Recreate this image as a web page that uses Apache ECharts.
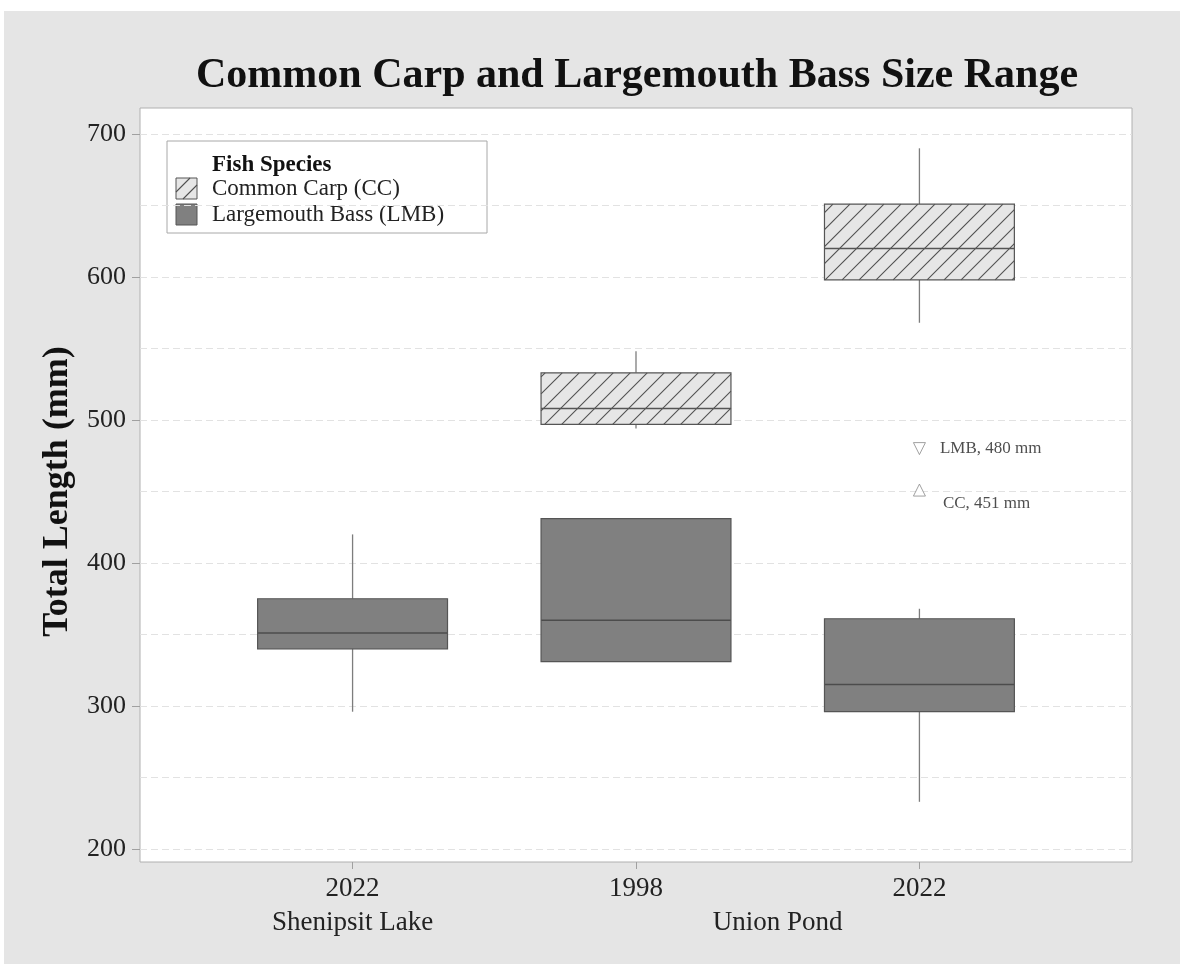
<!DOCTYPE html>
<html>
<head>
<meta charset="utf-8">
<style>
  html, body { margin: 0; padding: 0; background: #ffffff; }
  #chart { width: 1180px; height: 964px; }
</style>
<script src="https://cdn.jsdelivr.net/npm/echarts@6/dist/echarts.min.js"></script>
</head>
<body>
<div id="chart"></div>
<script>
// ---- data -------------------------------------------------------------
const POSITIONS = [1, 2, 3];                       // x slot of each sampling
const YEAR_LABELS = ['2022', '1998', '2022'];      // year under each slot
const SITE_NAMES = ['Shenipsit Lake', 'Union Pond'];
const SITE_SLOTS = [[0], [1, 2]];                  // slots belonging to each site

// box rows: [slot index, low whisker, Q1, median, Q3, high whisker] (mm)
const CC_BOXES = [
  [1, 494, 497, 508, 533, 548],
  [2, 568, 598, 620, 651, 690]
];
const LMB_BOXES = [
  [0, 296, 340, 351, 375, 420],
  [1, 331, 331, 360, 431, 431],
  [2, 233, 296, 315, 361, 368]
];

// single fish shown as markers: species, slot, length (mm)
const OUTLIER_SPECIES = ['LMB', 'CC'];
const OUTLIER_SLOTS = [2, 2];
const OUTLIER_VALUES = [480, 451];

const Y_MIN = 200, Y_MAX = 700, Y_STEP = 100, GRID_STEP = 50;

// ---- styling ----------------------------------------------------------
const FONT = "'Liberation Serif', 'DejaVu Serif', serif";
const BOX_WIDTH = 0.67;
const HATCH_GAP = 17;
const CC_STYLE = { fill: '#e6e6e6', stroke: '#555555', median: '#555555', hatch: true };
const LMB_STYLE = { fill: '#808080', stroke: '#555555', median: '#4c4c4c', hatch: false };

function hatchLines(x0, y0, x1, y1, gap, start) {
  // diagonal "/" strokes (x + y = c) clipped to the rectangle
  const lines = [];
  let c = start !== undefined ? start : Math.ceil((x0 + y0) / gap) * gap;
  for (; c < x1 + y1; c += gap) {
    const xa = Math.max(x0, c - y1);
    const xb = Math.min(x1, c - y0);
    if (xb - xa > 0.5) {
      lines.push({
        type: 'line',
        shape: { x1: xa, y1: c - xa, x2: xb, y2: c - xb },
        style: { stroke: '#505050', lineWidth: 1.1 }
      });
    }
  }
  return lines;
}

function makeBoxRenderer(st) {
  return function (params, api) {
    const x = api.value(0);
    const lo = api.value(1), q1 = api.value(2), med = api.value(3), q3 = api.value(4), hi = api.value(5);
    const cx = api.coord([x, med])[0];
    const half = api.size([BOX_WIDTH, 0])[0] / 2;
    const yLo = api.coord([x, lo])[1];
    const yQ1 = api.coord([x, q1])[1];
    const yMed = api.coord([x, med])[1];
    const yQ3 = api.coord([x, q3])[1];
    const yHi = api.coord([x, hi])[1];
    const whisker = { stroke: '#7d7d7d', lineWidth: 1.3 };
    const kids = [];
    if (hi > q3) kids.push({ type: 'line', shape: { x1: cx, y1: yHi, x2: cx, y2: yQ3 }, style: whisker });
    if (lo < q1) kids.push({ type: 'line', shape: { x1: cx, y1: yQ1, x2: cx, y2: yLo }, style: whisker });
    kids.push({
      type: 'rect',
      shape: { x: cx - half, y: yQ3, width: half * 2, height: yQ1 - yQ3 },
      style: { fill: st.fill, stroke: null }
    });
    if (st.hatch) {
      hatchLines(cx - half, yQ3, cx + half, yQ1, HATCH_GAP).forEach(l => kids.push(l));
    }
    kids.push({
      type: 'line',
      shape: { x1: cx - half, y1: yMed, x2: cx + half, y2: yMed },
      style: { stroke: st.median, lineWidth: 1.5 }
    });
    kids.push({
      type: 'rect',
      shape: { x: cx - half, y: yQ3, width: half * 2, height: yQ1 - yQ3 },
      style: { fill: null, stroke: st.stroke, lineWidth: 1.2 }
    });
    return { type: 'group', children: kids };
  };
}

function toSeriesData(rows) {
  return rows.map(r => [POSITIONS[r[0]], r[1], r[2], r[3], r[4], r[5]]);
}

// axis label text for each labelled x value
const xLabelMap = {};
POSITIONS.forEach((p, i) => { xLabelMap[p] = { year: YEAR_LABELS[i], site: '' }; });
SITE_NAMES.forEach((name, s) => {
  const slots = SITE_SLOTS[s];
  const mid = slots.reduce((a, i) => a + POSITIONS[i], 0) / slots.length;
  if (!xLabelMap[mid]) xLabelMap[mid] = { year: ' ', site: '' };
  xLabelMap[mid].site = name;
});
const xLabelValues = Object.keys(xLabelMap).map(Number).sort((a, b) => a - b);

// ---- legend block -----------------------------------------------------
const LEG = { x: 167, y: 141, w: 320, h: 92 };
const legendChildren = [
  { type: 'rect', shape: { x: LEG.x, y: LEG.y, width: LEG.w, height: LEG.h },
    style: { fill: '#ffffff', stroke: '#a8a8a8', lineWidth: 1 } },
  { type: 'text', x: LEG.x + 45, y: LEG.y + 24,
    style: { text: 'Fish Species', font: 'bold 23px ' + FONT, fill: '#111', textVerticalAlign: 'middle', verticalAlign: 'middle' } },
  { type: 'rect', shape: { x: LEG.x + 9, y: LEG.y + 37, width: 21, height: 21 },
    style: { fill: CC_STYLE.fill, stroke: '#555555', lineWidth: 1 } },
  { type: 'text', x: LEG.x + 45, y: LEG.y + 48,
    style: { text: 'Common Carp (CC)', font: '23px ' + FONT, fill: '#222', textVerticalAlign: 'middle', verticalAlign: 'middle' } },
  { type: 'rect', shape: { x: LEG.x + 9, y: LEG.y + 63, width: 21, height: 21 },
    style: { fill: LMB_STYLE.fill, stroke: '#555555', lineWidth: 1 } },
  { type: 'text', x: LEG.x + 45, y: LEG.y + 74,
    style: { text: 'Largemouth Bass (LMB)', font: '23px ' + FONT, fill: '#222', textVerticalAlign: 'middle', verticalAlign: 'middle' } }
];
{
  const sx = LEG.x + 9, sy = LEG.y + 37;
  hatchLines(sx, sy, sx + 21, sy + 21, 14, sx + sy + 14).forEach(l => legendChildren.push(l));
}

// ---- chart ------------------------------------------------------------
const chart = echarts.init(document.getElementById('chart'), null, { renderer: 'canvas' });

chart.setOption({
  animation: false,
  backgroundColor: '#e5e5e5',
  textStyle: { fontFamily: FONT },
  title: {
    text: 'Common Carp and Largemouth Bass Size Range',
    left: 191,
    top: 50,
    textStyle: { fontFamily: FONT, fontSize: 42, fontWeight: 'bold', color: '#111' }
  },
  graphic: [
    { type: 'rect', z: -10, shape: { x: 0, y: 0, width: 1180, height: 11 }, style: { fill: '#ffffff' } },
    { type: 'rect', z: -10, shape: { x: 0, y: 0, width: 4, height: 964 }, style: { fill: '#ffffff' } },
    { type: 'rect', z: -10, shape: { x: 140, y: 108, width: 992, height: 754 },
      style: { fill: '#ffffff', stroke: '#b0b0b0', lineWidth: 1 } },
    { type: 'group', z: 50, children: legendChildren }
  ],
  grid: { left: 140, right: 48, top: 134, bottom: 115, containLabel: false },
  xAxis: {
    type: 'value',
    min: 0.25,
    max: 3.75,
    offset: 13,
    splitLine: { show: false },
    axisLine: { show: false },
    axisTick: { show: true, customValues: POSITIONS, length: 7, lineStyle: { color: '#a0a0a0' } },
    axisLabel: {
      customValues: xLabelValues,
      margin: 10,
      fontSize: 27,
      lineHeight: 34,
      color: '#222',
      fontFamily: FONT,
      formatter: function (v) {
        const e = xLabelMap[v];
        if (!e) return '';
        return e.site ? e.year + '\n' + e.site : e.year;
      }
    }
  },
  yAxis: [
    {
      type: 'value',
      min: Y_MIN,
      max: Y_MAX,
      interval: Y_STEP,
      name: 'Total Length (mm)',
      nameLocation: 'middle',
      nameGap: 63,
      nameTextStyle: { fontFamily: FONT, fontSize: 36, fontWeight: 'bold', color: '#111' },
      axisLine: { show: false },
      axisTick: { show: true, length: 8, lineStyle: { color: '#a0a0a0' } },
      axisLabel: { fontSize: 26, color: '#222', margin: 14, fontFamily: FONT },
      splitLine: { show: false }
    },
    {
      type: 'value',
      min: Y_MIN,
      max: Y_MAX,
      interval: GRID_STEP,
      position: 'left',
      axisLine: { show: false },
      axisTick: { show: false },
      axisLabel: { show: false },
      splitLine: { show: true, lineStyle: { color: '#e2e2e2', type: [7, 4], width: 1 } }
    }
  ],
  series: [
    {
      name: 'Common Carp (CC)',
      type: 'custom',
      yAxisIndex: 0,
      renderItem: makeBoxRenderer(CC_STYLE),
      encode: { x: 0, y: [1, 2, 3, 4, 5] },
      data: toSeriesData(CC_BOXES),
      z: 5
    },
    {
      name: 'Largemouth Bass (LMB)',
      type: 'custom',
      yAxisIndex: 0,
      renderItem: makeBoxRenderer(LMB_STYLE),
      encode: { x: 0, y: [1, 2, 3, 4, 5] },
      data: toSeriesData(LMB_BOXES),
      z: 5
    },
    {
      name: 'Single fish',
      type: 'scatter',
      yAxisIndex: 0,
      symbol: 'triangle',
      symbolSize: 12,
      z: 6,
      itemStyle: { color: '#ffffff', borderColor: '#8a8a8a', borderWidth: 1 },
      data: OUTLIER_VALUES.map((v, i) => ({
        value: [POSITIONS[OUTLIER_SLOTS[i]], v],
        symbolRotate: OUTLIER_SPECIES[i] === 'LMB' ? 180 : 0,
        label: {
          show: true,
          position: 'right',
          distance: 14,
          offset: OUTLIER_SPECIES[i] === 'LMB' ? [0, 0] : [3, 13],
          fontSize: 17,
          color: '#222',
          fontFamily: FONT,
          formatter: OUTLIER_SPECIES[i] + ', ' + v + ' mm'
        }
      }))
    }
  ]
});
</script>
</body>
</html>
